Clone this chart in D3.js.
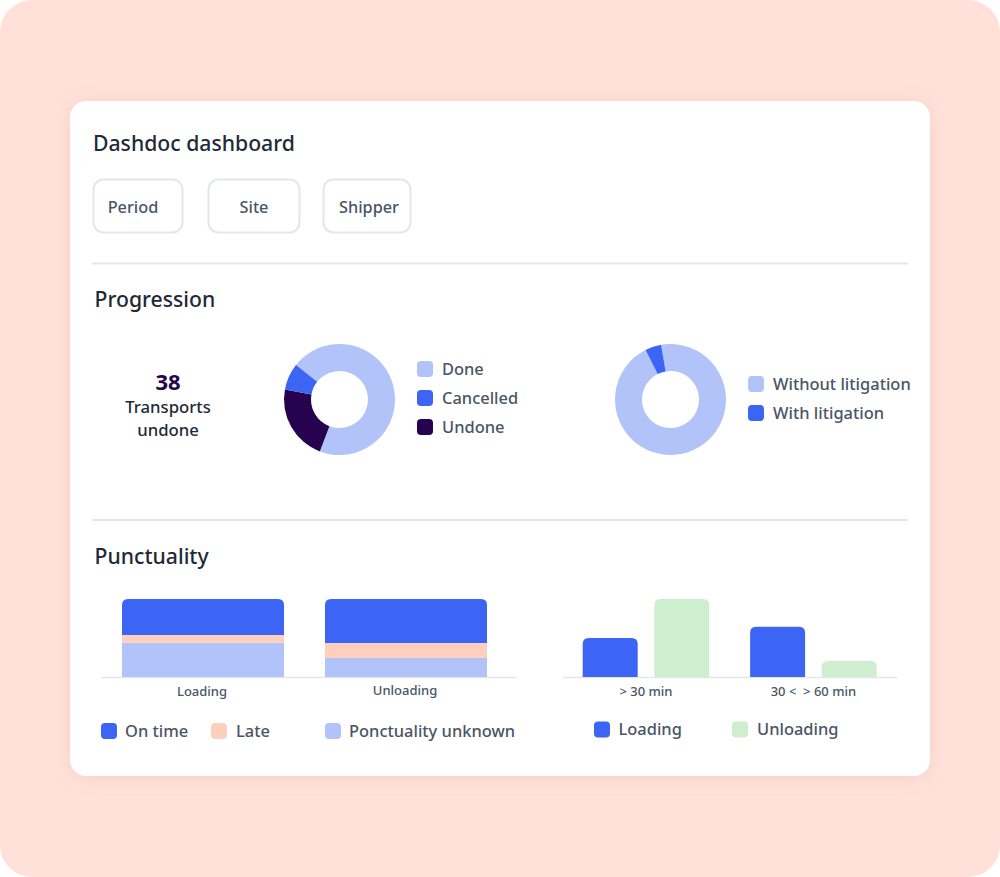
<!DOCTYPE html>
<meta charset="utf-8">

<style>
  html, body { margin: 0; background: #fff; }
  svg { display: block; font-family: "Noto Sans", sans-serif; }
  text { white-space: pre; }
  .title { fill: #1f2a37; font-size: 21.2px; font-weight: 500; }
  .filter { fill: #4a5565; font-size: 16.3px; font-weight: 500; text-anchor: middle; }
  .legend { fill: #4a5565; font-size: 16.45px; font-weight: 500; }
  .tick text { fill: #4a5565; font-size: 13px; font-weight: 500; }
</style>

<body></body>

<script src="https://d3js.org/d3.v7.min.js"></script>

<script>

const filters = ["Period", "Site", "Shipper"];

// progression donuts, % of transports
const statusLabels = ["Done", "Undone", "Cancelled"];
const statusValues = [70.1, 22.1, 7.8];
const statusLegend = ["Done", "Cancelled", "Undone"];
const litigationLabels = ["Without litigation", "With litigation"];
const litigationValues = [95.3, 4.7];
const undoneCount = "38";

// punctuality stacked bars, % of transports
const stackCategories = ["Loading", "Unloading"];
const stackSeries = ["On time", "Late", "Ponctuality unknown"];
const onTime = [46, 56.5];
const late = [10, 19];
const unknown = [44, 24.5];

// delay bars
const delayCategories = ["> 30 min", "30 <  > 60 min"];
const delaySeries = ["Loading", "Unloading"];
const delayLoading = [50, 64.5];
const delayUnloading = [100, 20.5];

const blue = "#3c64f5", light = "#b2c3f9", dark = "#27034f", peach = "#ffcfbe", green = "#cfeed0";
const colors = {
  "Done": light, "Cancelled": blue, "Undone": dark,
  "Without litigation": light, "With litigation": blue,
  "On time": blue, "Late": peach, "Ponctuality unknown": light,
  "Loading": blue, "Unloading": green
};

const svg = d3.select("body").append("svg").attr("width", 1000).attr("height", 877);

// background and card
const defs = svg.append("defs");
defs.append("filter").attr("id", "shadow").attr("x", "-5%").attr("y", "-5%").attr("width", "110%").attr("height", "110%")
  .append("feDropShadow").attr("dx", 0).attr("dy", 2).attr("stdDeviation", 8)
  .attr("flood-color", "#d8a898").attr("flood-opacity", 0.3);

svg.append("rect").attr("width", 1000).attr("height", 877).attr("rx", 32).attr("fill", "#ffe1d9");
svg.append("rect").attr("x", 70).attr("y", 101).attr("width", 860).attr("height", 675).attr("rx", 16)
  .attr("fill", "#fff").attr("filter", "url(#shadow)");

// titles
svg.append("text").attr("class", "title").attr("x", 93).attr("y", 151).text("Dashdoc dashboard");
svg.append("text").attr("class", "title").attr("x", 94.5).attr("y", 307).text("Progression");
svg.append("text").attr("class", "title").attr("x", 94.5).attr("y", 564).text("Punctuality");

// filter buttons
const buttonBoxes = [[93, 90, 133], [208, 92, 254], [323, 88, 369]];
svg.selectAll(".button").data(filters).join("g").attr("class", "button").each(function(d, i) {
  const g = d3.select(this), [x, w, labelX] = buttonBoxes[i];
  g.append("rect").attr("x", x + 0.5).attr("y", 179.5).attr("width", w - 1).attr("height", 53).attr("rx", 10)
    .attr("fill", "#fff").attr("stroke", "#e3e7ec").attr("stroke-width", 2);
  g.append("text").attr("class", "filter").attr("x", labelX).attr("y", 212.5).text(d);
});

// dividers
svg.selectAll(".divider").data([263.5, 520]).join("line").attr("class", "divider")
  .attr("x1", 92).attr("x2", 908).attr("y1", d => d).attr("y2", d => d)
  .attr("stroke", "#e3e7ec").attr("stroke-width", 2);

// undone counter
svg.append("text").attr("x", 168).attr("y", 389.5).attr("text-anchor", "middle")
  .attr("font-size", 22).attr("font-weight", 700).attr("fill", dark).text(undoneCount);
svg.selectAll(".undone").data(["Transports", "undone"]).join("text").attr("class", "undone")
  .attr("x", 168).attr("y", (d, i) => 412.5 + i * 23).attr("text-anchor", "middle")
  .attr("font-size", 16.7).attr("font-weight", 500).attr("fill", "#1f2a37").text(d => d);

function donut(cx, cy, labels, values, startDeg) {
  const pie = d3.pie().sort(null)
    .startAngle(startDeg * Math.PI / 180)
    .endAngle((startDeg + 360) * Math.PI / 180);
  const arc = d3.arc().innerRadius(28.5).outerRadius(55.5);
  svg.append("g").attr("transform", `translate(${cx},${cy})`)
    .selectAll("path").data(pie(values)).join("path")
    .attr("d", arc).attr("fill", (d, i) => colors[labels[i]]);
}

function legend(items, xSwatch, xText, y) {
  items.forEach((name, i) => {
    const cy = Array.isArray(y) ? y[i] : y;
    const sx = Array.isArray(xSwatch) ? xSwatch[i] : xSwatch;
    const tx = Array.isArray(xText) ? xText[i] : xText;
    svg.append("rect").attr("x", sx).attr("y", cy - 8).attr("width", 16).attr("height", 16).attr("rx", 4)
      .attr("fill", colors[name]);
    svg.append("text").attr("class", "legend").attr("x", tx).attr("y", cy + 5.5).text(name);
  });
}

donut(339.5, 399.5, statusLabels, statusValues, -51.6);
legend(statusLegend, 417, 442, [369, 398, 427]);

donut(670.5, 399.5, litigationLabels, litigationValues, -9.8);
legend(litigationLabels, 748, 773, [384, 413]);

// path for a bar with rounded top corners only
function topRounded(x, y, w, h, r) {
  return `M${x},${y + h}V${y + r}Q${x},${y} ${x + r},${y}H${x + w - r}Q${x + w},${y} ${x + w},${y + r}V${y + h}Z`;
}

const baseline = 677;

function baseLine(x1, x2) {
  svg.append("line").attr("x1", x1).attr("x2", x2).attr("y1", baseline + 0.5).attr("y2", baseline + 0.5)
    .attr("stroke", "#e3e7ec").attr("stroke-width", 1.5);
}

function xAxis(scale) {
  const g = svg.append("g").attr("transform", `translate(0,${baseline})`)
    .call(d3.axisBottom(scale).tickSize(0).tickPadding(10));
  g.attr("font-family", null).attr("font-size", null);
  g.select(".domain").remove();
  return g;
}

// stacked bars
const stackRows = stackCategories.map((c, i) => ({ category: c, "On time": onTime[i], "Late": late[i], "Ponctuality unknown": unknown[i] }));
const stack = d3.stack().keys(stackSeries.slice().reverse())(stackRows);
const xStack = d3.scaleBand().domain(stackCategories).range([122, 487]).paddingInner(0.202);
const yStack = d3.scaleLinear().domain([0, 100]).range([baseline, 599]);

baseLine(101, 516);
stack.forEach(layer => {
  svg.append("g").selectAll("path").data(layer).join("path")
    .attr("fill", colors[layer.key])
    .attr("d", d => {
      const x = xStack(d.data.category), y = yStack(d[1]), h = yStack(d[0]) - y;
      return topRounded(x, y, xStack.bandwidth(), h, layer.key === "On time" ? 6 : 0);
    });
});
const stackTicks = xAxis(xStack);
stackTicks.selectAll("text").attr("x", -1).attr("dy", (d, i) => i === 1 ? "0.58em" : "0.71em");
legend(stackSeries, [101, 211, 325], [125, 236, 349], 731);

// grouped bars
const delayValues = { "Loading": delayLoading, "Unloading": delayUnloading };
const xDelay = d3.scaleBand().domain(delayCategories).range([582.7, 876.7]).paddingInner(0.244);
const xSeries = d3.scaleBand().domain(delaySeries).range([0, xDelay.bandwidth()]).paddingInner(0.232);
const yDelay = d3.scaleLinear().domain([0, 100]).range([baseline, 599]);

baseLine(563, 897);
delaySeries.forEach(name => {
  svg.append("g").selectAll("path").data(delayCategories).join("path")
    .attr("fill", colors[name])
    .attr("d", (c, i) => {
      const y = yDelay(delayValues[name][i]);
      return topRounded(xDelay(c) + xSeries(name), y, xSeries.bandwidth(), baseline - y, 6);
    });
});
xAxis(xDelay);
legend(delaySeries, [594, 732], [618.5, 757], 729.5);

</script>
